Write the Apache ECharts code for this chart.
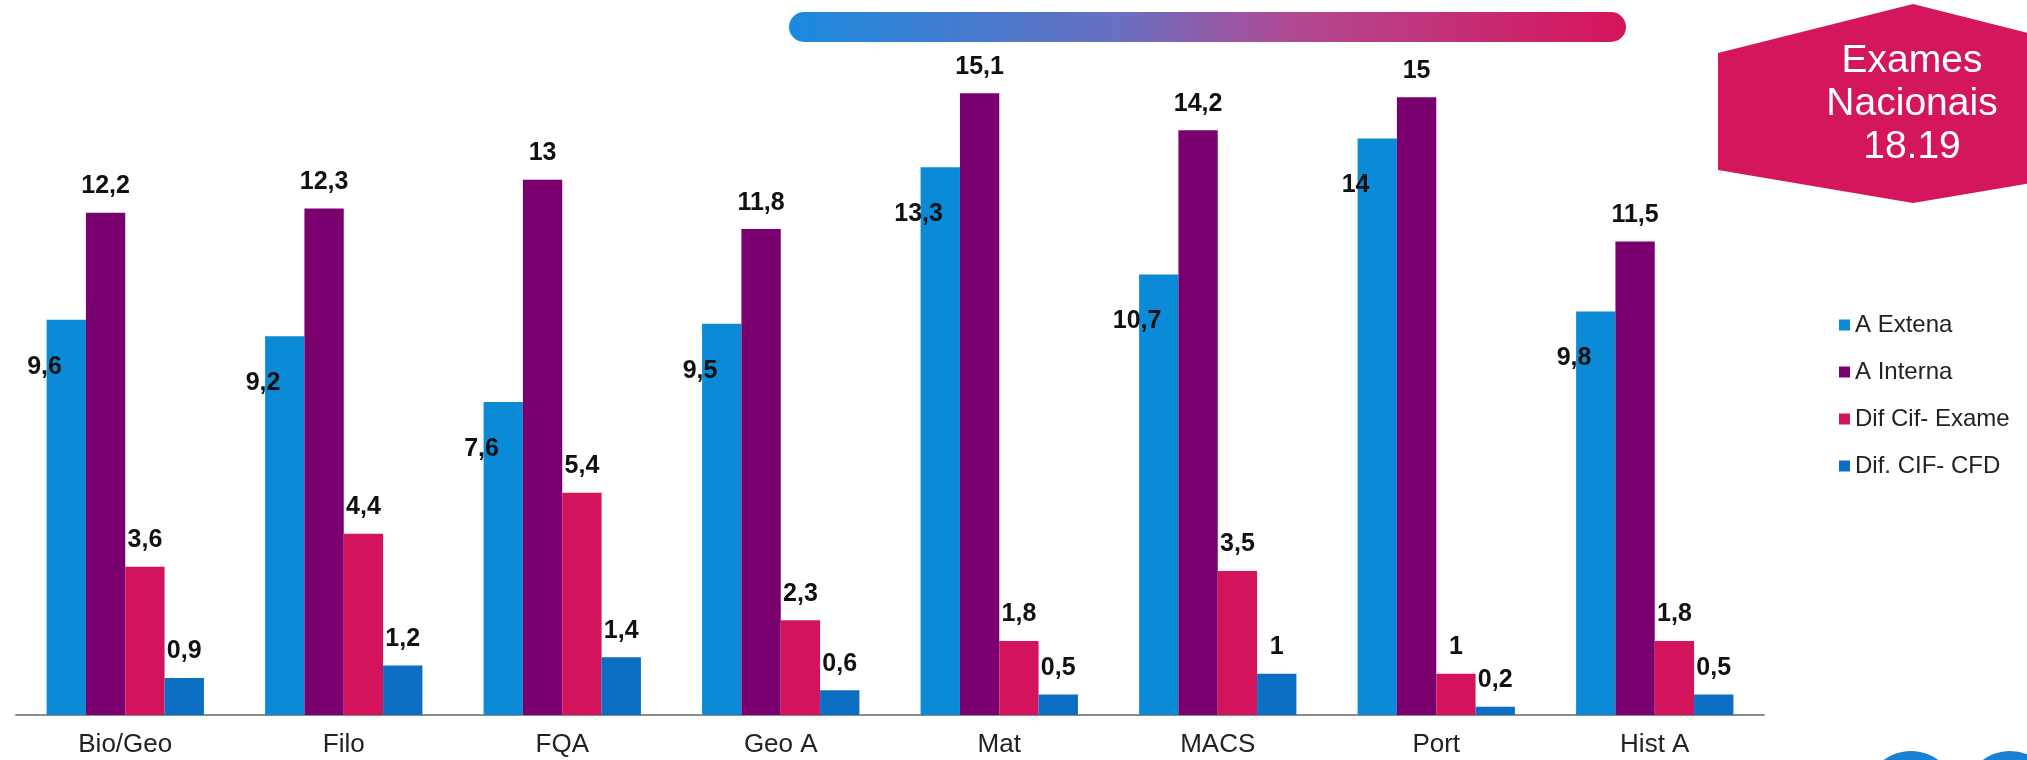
<!DOCTYPE html>
<html>
<head>
<meta charset="utf-8">
<script src="https://cdn.jsdelivr.net/npm/echarts@6/dist/echarts.min.js"></script>
<style>
html,body{margin:0;padding:0;background:#fff;}
#chart{width:2027px;height:760px;}
</style>
</head>
<body>
<div id="chart"></div>
<script>
// ---- data ----
const categories = ['Bio/Geo', 'Filo', 'FQA', 'Geo A', 'Mat', 'MACS', 'Port', 'Hist A'];
const seriesNames = ['A Extena', 'A Interna', 'Dif Cif- Exame', 'Dif. CIF- CFD'];
const aExterna = [9.6, 9.2, 7.6, 9.5, 13.3, 10.7, 14, 9.8];
const aInterna = [12.2, 12.3, 13, 11.8, 15.1, 14.2, 15, 11.5];
const difCifExame = [3.6, 4.4, 5.4, 2.3, 1.8, 3.5, 1, 1.8];
const difCifCfd = [0.9, 1.2, 1.4, 0.6, 0.5, 1, 0.2, 0.5];
const badgeLines = ['Exames', 'Nacionais', '18.19'];

// ---- styles ----
const FONT = "'Liberation Sans', Arial, sans-serif";
const colors = ['#0b8ad8', '#7a006f', '#d3145d', '#0b6ec3'];
const fmt = p => String(p.value).replace('.', ',');
const labelFont = { fontFamily: FONT, fontWeight: 'bold', fontSize: 25, color: '#111' };

const chart = echarts.init(document.getElementById('chart'), null, { renderer: 'canvas' });

function barSeries(name, data, color, label) {
  return {
    name, type: 'bar', data,
    barWidth: '18%', barGap: '0%',
    itemStyle: { color },
    label: Object.assign({ show: true, formatter: fmt }, labelFont, label),
    emphasis: { disabled: true }
  };
}

const option = {
  animation: false,
  backgroundColor: '#ffffff',
  grid: { left: 16, right: 263, top: 15, bottom: 45, containLabel: false },
  xAxis: {
    type: 'category', data: categories,
    axisLine: { lineStyle: { color: '#8c8c8c', width: 2 } },
    axisTick: { show: false },
    axisLabel: { fontFamily: FONT, fontSize: 26, color: '#222', margin: 17 }
  },
  yAxis: {
    type: 'value', min: 0, max: 17, interval: 1,
    show: false, splitLine: { show: false }
  },
  legend: {
    orient: 'vertical', left: 1834, top: 308,
    itemWidth: 11, itemHeight: 11, itemGap: 23,
    icon: 'rect',
    textStyle: { fontFamily: FONT, fontSize: 24, color: '#222' },
    data: seriesNames
  },
  series: [
    barSeries(seriesNames[0], aExterna, colors[0], { position: [-2, 47], align: 'center', verticalAlign: 'middle' }),
    barSeries(seriesNames[1], aInterna, colors[1], { position: 'top', distance: 14 }),
    barSeries(seriesNames[2], difCifExame, colors[2], { position: 'top', distance: 14 }),
    barSeries(seriesNames[3], difCifCfd, colors[3], { position: 'top', distance: 14 })
  ],
  graphic: [
    {
      type: 'rect', silent: true,
      shape: { x: 789, y: 12, width: 837, height: 30, r: 15 },
      style: {
        fill: new echarts.graphic.LinearGradient(0, 0, 1, 0, [
          { offset: 0, color: '#1a8ade' },
          { offset: 0.4, color: '#6b6ec0' },
          { offset: 0.6, color: '#b04a92' },
          { offset: 1, color: '#d6145a' }
        ])
      }
    },
    {
      type: 'polygon', silent: true,
      shape: { points: [[1913, 4], [2108, 53], [2108, 170], [1913, 203], [1718, 170], [1718, 53]] },
      style: { fill: '#d4175c' }
    },
    {
      type: 'text', silent: true, x: 1912, y: 104,
      style: {
        text: badgeLines.join('\n'), fill: '#ffffff',
        font: "39px 'Liberation Sans', Arial, sans-serif",
        lineHeight: 43, align: 'center', verticalAlign: 'middle'
      }
    },
    { type: 'circle', silent: true, shape: { cx: 1911, cy: 797, r: 46 }, style: { fill: '#1a80d2' } },
    { type: 'circle', silent: true, shape: { cx: 2010, cy: 797, r: 46 }, style: { fill: '#1a80d2' } }
  ]
};
chart.setOption(option);
</script>
</body>
</html>
